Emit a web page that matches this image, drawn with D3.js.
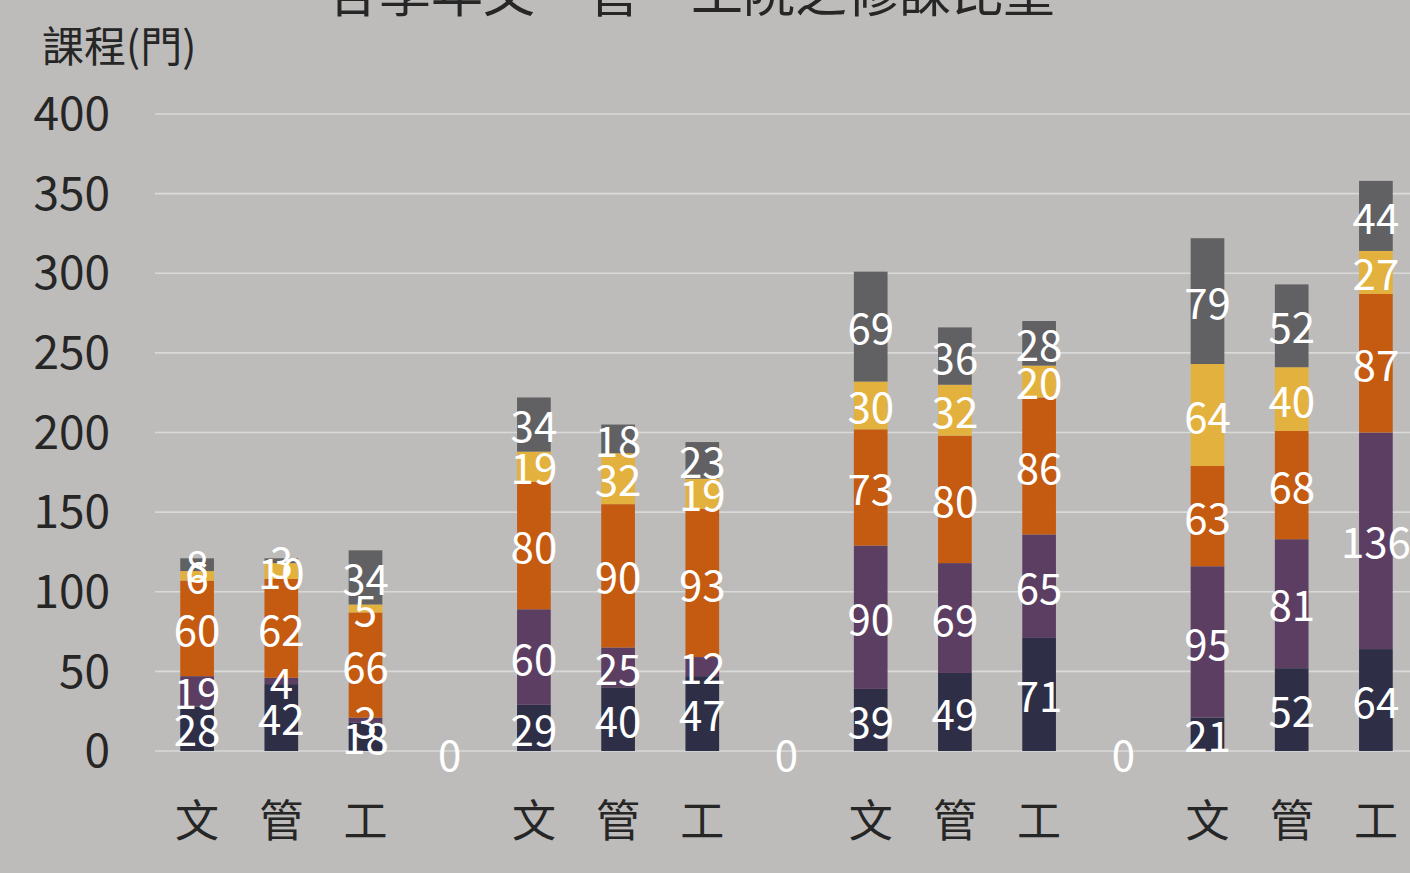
<!DOCTYPE html>
<html>
<head>
<meta charset="utf-8">
<script src="https://cdn.jsdelivr.net/npm/d3@7"></script>
<style>
  html, body { margin: 0; padding: 0; background: #bdbcba; }
  svg { display: block; }
</style>
</head>
<body>
<svg id="chart" width="1410" height="873"></svg>
<script>
// ---- data ----
const titleText = "各學年文、管、工院之修課比重";
const yAxisTitle = "課程(門)";
const categories = ["文","管","工","","文","管","工","","文","管","工","","文","管","工"];
const seriesNames = ["系列1","系列2","系列3","系列4","系列5"];
const series1 = [28, 42, 18, 0, 29, 40, 47, 0, 39, 49, 71, 0, 21, 52, 64];
const series2 = [19,  4,  3, 0, 60, 25, 12, 0, 90, 69, 65, 0, 95, 81, 136];
const series3 = [60, 62, 66, 0, 80, 90, 93, 0, 73, 80, 86, 0, 63, 68, 87];
const series4 = [ 6, 10,  5, 0, 19, 32, 19, 0, 30, 32, 20, 0, 64, 40, 27];
const series5 = [ 8,  3, 34, 0, 34, 18, 23, 0, 69, 36, 28, 0, 79, 52, 44];
const yTicks = [0, 50, 100, 150, 200, 250, 300, 350, 400];
const colors = ["#2e2f47", "#5c3e63", "#c55a11", "#e3b13d", "#616163"];

// ---- build table ----
const allSeries = [series1, series2, series3, series4, series5];
const rows = categories.map((c, i) => {
  const r = { idx: i, cat: c };
  seriesNames.forEach((s, k) => r[s] = allSeries[k][i]);
  return r;
});
const stacked = d3.stack().keys(seriesNames)(rows);

const svg = d3.select("#chart");
const plotLeft = 155, plotRight = 1418, plotTop = 114, plotBottom = 751;
const font = "'Noto Sans CJK TC', 'Noto Sans', sans-serif";

const x = d3.scaleBand()
  .domain(rows.map(r => r.idx))
  .range([plotLeft, plotRight])
  .paddingInner(0.6)
  .paddingOuter(0.3);
const y = d3.scaleLinear().domain([0, 400]).range([plotBottom, plotTop]);

// gridlines
svg.append("g").selectAll("line").data(yTicks).join("line")
  .attr("x1", plotLeft).attr("x2", plotRight)
  .attr("y1", d => y(d)).attr("y2", d => y(d))
  .attr("stroke", "#d9d9d9").attr("stroke-width", 1.6);

// y axis labels
const yAxis = d3.axisLeft(y).tickValues(yTicks).tickSize(0).tickPadding(0);
const yg = svg.append("g").attr("transform", `translate(110,0)`).call(yAxis);
yg.select(".domain").remove();
yg.selectAll("text")
  .attr("font-family", font).attr("font-size", 46).attr("fill", "#262626")
  .attr("dy", "0.34em");

// bars
const layers = svg.append("g").selectAll("g").data(stacked).join("g")
  .attr("fill", (d, i) => colors[i]);
layers.selectAll("rect").data(d => d.filter(p => p[1] - p[0] > 0)).join("rect")
  .attr("x", d => x(d.data.idx))
  .attr("width", x.bandwidth())
  .attr("y", d => y(d[1]))
  .attr("height", d => y(d[0]) - y(d[1]));

// data labels
const lbl = svg.append("g").attr("font-family", font).attr("font-size", 42)
  .attr("fill", "#ffffff").attr("text-anchor", "middle");
stacked.forEach(layer => {
  layer.forEach(p => {
    const v = p[1] - p[0];
    if (v > 0) {
      lbl.append("text")
        .attr("x", x(p.data.idx) + x.bandwidth() / 2)
        .attr("y", y((p[0] + p[1]) / 2))
        .attr("dy", "0.42em")
        .text(v);
    }
  });
});
// zero labels for empty categories
rows.filter(r => seriesNames.every(s => r[s] === 0)).forEach(r => {
  lbl.append("text")
    .attr("x", x(r.idx) + x.bandwidth() / 2)
    .attr("y", y(0) + 2)
    .attr("dy", "0.42em")
    .text(0);
});

// category axis labels
const xAxis = d3.axisBottom(x).tickFormat(i => categories[i]).tickSize(0).tickPadding(0);
const xg = svg.append("g").attr("transform", `translate(0,${plotBottom})`).call(xAxis);
xg.select(".domain").remove();
xg.selectAll("text")
  .attr("font-family", font).attr("font-size", 44).attr("fill", "#262626")
  .attr("y", 70).attr("dy", "0.36em");

// axis title
svg.append("text").attr("x", 42).attr("y", 62)
  .attr("font-family", font).attr("font-size", 42).attr("fill", "#262626")
  .text(yAxisTitle);

// chart title (partially cut at top)
svg.append("text").attr("x", 691).attr("y", 12)
  .attr("text-anchor", "middle")
  .attr("font-family", font).attr("font-size", 52).attr("fill", "#262626")
  .text(titleText);
</script>
</body>
</html>
